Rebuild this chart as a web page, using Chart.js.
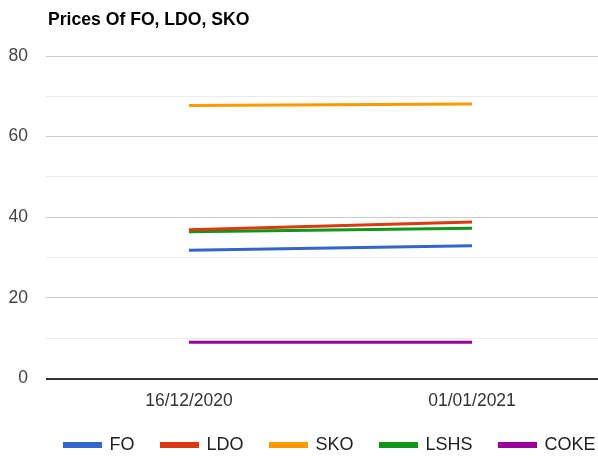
<!DOCTYPE html>
<html>
<head>
<meta charset="utf-8">
<script src="https://cdn.jsdelivr.net/npm/chart.js@4"></script>
<style>
  html, body { margin: 0; padding: 0; background: #fff; }
  #wrap { width: 598px; height: 456px; }
</style>
</head>
<body>
<div id="wrap"><canvas id="pricesChart"></canvas></div>
<script>
// chart data
const categories = ['16/12/2020', '01/01/2021'];
const foValues = [31.8, 32.9];
const ldoValues = [36.9, 38.8];
const skoValues = [67.7, 68.1];
const lshsValues = [36.4, 37.3];
const cokeValues = [9.0, 9.0];
const yTicks = [0, 20, 40, 60, 80];

const seriesList = [
    { label: 'FO', data: foValues, color: '#3366cc' },
    { label: 'LDO', data: ldoValues, color: '#dc3912' },
    { label: 'SKO', data: skoValues, color: '#ff9900' },
    { label: 'LSHS', data: lshsValues, color: '#109618' },
    { label: 'COKE', data: cokeValues, color: '#990099' }
];

const FONT = '"Liberation Sans", Arial, sans-serif';

// title drawn flush with the plot area's left edge
const titlePlugin = {
    id: 'leftTitle',
    afterLayout(chart) {
        // nudge legend like the original
        chart.legend.left += 31;
        chart.legend.right += 31;
        chart.legend.top += 2;
        chart.legend.bottom += 2;
        // let the date labels draw below the short x box without clipping
        chart.scales.x.bottom = chart.height;
    },
    afterDraw(chart) {
        const ctx = chart.ctx;
        ctx.save();
        ctx.font = 'bold 17.6px ' + FONT;
        ctx.fillStyle = '#000';
        ctx.textBaseline = 'middle';
        ctx.fillText('Prices Of FO, LDO, SKO', chart.chartArea.left + 2, 20);
        ctx.restore();
    }
};

new Chart(document.getElementById('pricesChart'), {
    type: 'line',
    data: {
        datasets: seriesList.map(s => ({
            label: s.label,
            data: s.data.map((v, i) => ({ x: i, y: v })),
            borderColor: s.color,
            backgroundColor: s.color,
            borderWidth: 3,
            pointRadius: 0,
            pointHoverRadius: 0,
            tension: 0
        }))
    },
    options: {
        responsive: true,
        maintainAspectRatio: false,
        animation: false,
        layout: { padding: { top: 56, left: 0, right: 0, bottom: -6 } },
        plugins: {
            title: { display: false },
            tooltip: { enabled: false },
            legend: {
                position: 'bottom',
                labels: {
                    boxWidth: 36,
                    boxHeight: 3,
                    padding: 27,
                    color: '#222',
                    font: { family: FONT, size: 18 }
                }
            }
        },
        scales: {
            x: {
                type: 'linear',
                min: -0.505,
                max: 1.445,
                grid: { display: false },
                border: { display: false },
                afterFit: s => { s.height = 28.5; },
                ticks: {
                    stepSize: 1,
                    includeBounds: false,
                    padding: 4,
                    color: '#333',
                    font: { family: FONT, size: 17.5 },
                    maxRotation: 0,
                    callback: v => Number.isInteger(v) && categories[v] !== undefined ? categories[v] : ''
                }
            },
            y: {
                min: 0,
                max: 80,
                border: { display: false },
                afterFit: s => { s.width = 46; },
                grid: {
                    drawTicks: false,
                    color: ctx => ctx.tick.value === 0 ? '#333' : (yTicks.includes(ctx.tick.value) ? '#cccccc' : '#ebebeb'),
                    lineWidth: ctx => ctx.tick.value === 0 ? 2 : 1
                },
                ticks: {
                    stepSize: 10,
                    padding: 18,
                    color: '#444',
                    font: { family: FONT, size: 17.5 },
                    callback: v => yTicks.includes(v) ? String(v) : ''
                }
            }
        }
    },
    plugins: [titlePlugin]
});
</script>
</body>
</html>
